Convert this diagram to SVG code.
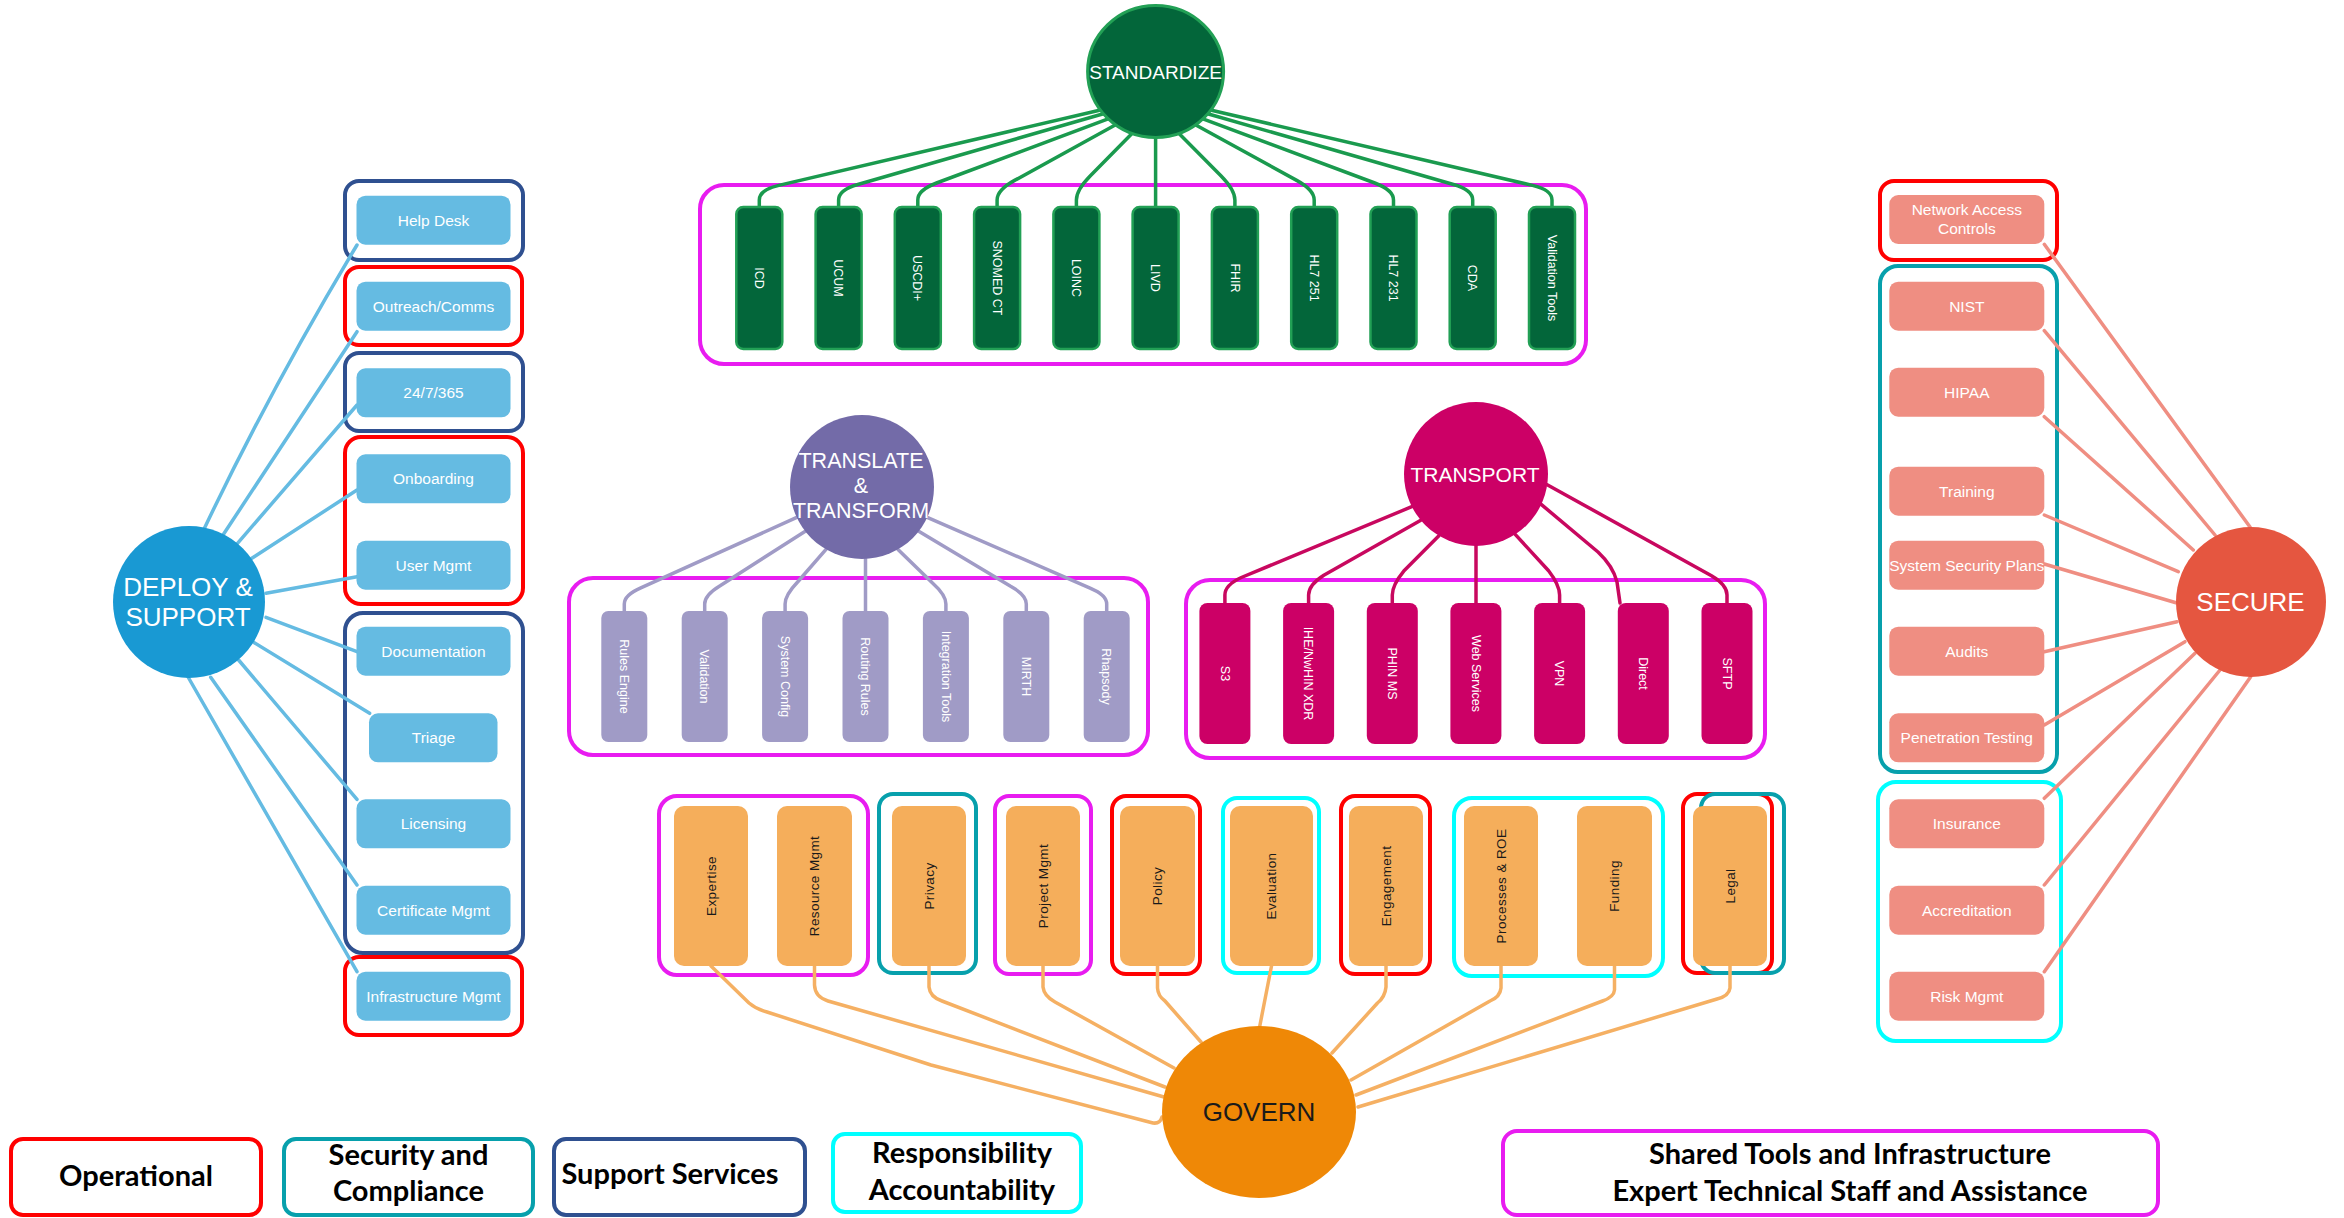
<svg xmlns="http://www.w3.org/2000/svg" width="2344" height="1218" viewBox="0 0 2344 1218">
  <style>
    text { font-family: "Liberation Sans", Arial, sans-serif; }
    .frame { fill: none; stroke-width: 4; }
    .op { stroke: #ff0000; }
    .sec { stroke: #07a0ac; }
    .sup { stroke: #2f5090; }
    .resp { stroke: #00ffff; }
    .shared { stroke: #e81cf0; }
    .conn { fill: none; stroke-width: 3.5; stroke-linecap: round; stroke-linejoin: round; }
    .c-std { stroke: #1a9a4e; }
    .c-tt { stroke: #a09bc6; }
    .c-tp { stroke: #c8085f; }
    .c-gov { stroke: #f5b063; }
    .c-dep { stroke: #65bbe2; }
    .c-secu { stroke: #ef8e82; }
    .hub-label { fill: #ffffff; text-anchor: middle; }
    .bar-label { fill: #ffffff; text-anchor: middle; font-size: 12.5px; }
    .std-bar { fill: #03663a; stroke: #22a055; stroke-width: 2.5; }
    .tt-bar { fill: #a09bc6; }
    .tp-bar { fill: #cc0066; }
    .gov-bar { fill: #f5ae5b; }
    .gov-label { fill: #1a1a1a; text-anchor: middle; font-size: 13.5px; letter-spacing: 0.4px; }
    .dep-box { fill: #65bbe2; }
    .sec-box { fill: #ef8e82; }
    .box-label { fill: #ffffff; text-anchor: middle; font-size: 15.5px; }
    .legend-label { font-family: Lato, "Liberation Sans", sans-serif; font-weight: 700; font-size: 29px; fill: #000000; text-anchor: middle; }
  </style>

  <rect width="2344" height="1218" fill="#ffffff"/>

  <!-- category frames -->
  <g id="frames">
    <rect class="frame shared" x="700" y="185" width="886" height="179" rx="24"/>
    <rect class="frame shared" x="569" y="578" width="579" height="177" rx="24"/>
    <rect class="frame shared" x="1186" y="580" width="579" height="178" rx="24"/>

    <rect class="frame sup" x="345" y="181" width="178" height="79" rx="14"/>
    <rect class="frame op" x="345" y="267" width="177" height="78" rx="14"/>
    <rect class="frame sup" x="345" y="353" width="178" height="78" rx="14"/>
    <rect class="frame op" x="345" y="437" width="178" height="167" rx="16"/>
    <rect class="frame sup" x="345" y="613" width="178" height="340" rx="18"/>
    <rect class="frame op" x="345" y="957" width="177" height="78" rx="14"/>

    <rect class="frame op" x="1880" y="181" width="177" height="79" rx="14"/>
    <rect class="frame sec" x="1880" y="266" width="177" height="506" rx="18"/>
    <rect class="frame resp" x="1878" y="782" width="183" height="259" rx="18"/>

    <rect class="frame shared" x="659" y="796" width="209" height="179" rx="18"/>
    <rect class="frame sec" x="879" y="794" width="97" height="179" rx="14"/>
    <rect class="frame shared" x="995" y="796" width="96" height="178" rx="14"/>
    <rect class="frame op" x="1112" y="796" width="88" height="178" rx="14"/>
    <rect class="frame resp" x="1223" y="798" width="96" height="175" rx="14"/>
    <rect class="frame op" x="1341" y="796" width="89" height="178" rx="14"/>
    <rect class="frame resp" x="1454" y="798" width="209" height="178" rx="18"/>
    <rect class="frame op" x="1683" y="794" width="89" height="179" rx="14"/>
    <rect class="frame sec" x="1701" y="794" width="83" height="179" rx="14"/>
  </g>

  <!-- connectors -->
  <g id="connectors">
    <!-- STANDARDIZE -->
    <path class="conn c-std" d="M1100.6 110 L778.8 185.4 Q759.3 190 759.3 200 L759.3 207"/>
    <path class="conn c-std" d="M1103.4 113.7 L857.8 184.5 Q838.6 190 838.6 200 L838.6 207"/>
    <path class="conn c-std" d="M1108.1 118.9 L936.5 183 Q917.8 190 917.8 200 L917.8 207"/>
    <path class="conn c-std" d="M1115.2 125 L1014.6 180.4 Q997.1 190 997.1 200 L997.1 207"/>
    <path class="conn c-std" d="M1131.5 134.1 L1090.4 175.8 Q1076.4 190 1076.4 200 L1076.4 207"/>
    <path class="conn c-std" d="M1155.6 136 L1155.6 207"/>
    <path class="conn c-std" d="M1179.5 134.1 L1220.9 175.8 Q1234.9 190 1234.9 200 L1234.9 207"/>
    <path class="conn c-std" d="M1195.8 125 L1296.7 180.4 Q1314.2 190 1314.2 200 L1314.2 207"/>
    <path class="conn c-std" d="M1202.9 118.9 L1374.8 183 Q1393.5 190 1393.5 200 L1393.5 207"/>
    <path class="conn c-std" d="M1207.6 113.7 L1453.5 184.5 Q1472.7 190 1472.7 200 L1472.7 207"/>
    <path class="conn c-std" d="M1210.4 110 L1532.5 185.4 Q1552 190 1552 200 L1552 207"/>

    <!-- TRANSLATE & TRANSFORM -->
    <path class="conn c-tt" d="M796.8 517.4 L640.8 587.9 Q624.3 595 624.3 604 L624.3 611"/>
    <path class="conn c-tt" d="M805.3 531.3 L720.1 585.7 Q704.7 595 704.7 604 L704.7 611"/>
    <path class="conn c-tt" d="M826 549.4 L797.6 582 Q785.1 595 785.1 604 L785.1 611"/>
    <path class="conn c-tt" d="M865.5 556 L865.5 611"/>
    <path class="conn c-tt" d="M898 549.4 L932.5 583 Q945.9 595 945.9 604 L945.9 611"/>
    <path class="conn c-tt" d="M918.7 531.3 L1010.6 586.2 Q1026.3 595 1026.3 604 L1026.3 611"/>
    <path class="conn c-tt" d="M927.2 517.4 L1090.1 588.1 Q1106.7 595 1106.7 604 L1106.7 611"/>

    <!-- TRANSPORT -->
    <path class="conn c-tp" d="M1411.8 506.7 L1241.3 577.5 Q1224.9 585 1224.9 595 L1224.9 603"/>
    <path class="conn c-tp" d="M1420.8 520.3 L1323.8 575.3 Q1308.6 585 1308.6 595 L1308.6 603"/>
    <path class="conn c-tp" d="M1438.9 535.7 L1403.8 571.1 Q1392.3 585 1392.3 595 L1392.3 603"/>
    <path class="conn c-tp" d="M1476 544 L1476 603"/>
    <path class="conn c-tp" d="M1515.2 534.4 L1548.6 570.7 Q1559.6 585 1559.6 595 L1559.6 603"/>
    <path class="conn c-tp" d="M1541.2 504.4 L1598 552 Q1613 566 1617 582 L1620 603"/>
    <path class="conn c-tp" d="M1547.2 484.7 L1711.5 575.8 Q1727 585 1727 595 L1727 603"/>

    <!-- GOVERN -->
    <path class="conn c-gov" d="M711 966 L749 1003 Q756 1009 767 1012 L931 1065 L1153 1123 Q1160 1124 1162 1117"/>
    <path class="conn c-gov" d="M814.5 966 L814.5 985 Q815 997 828 1001 L1164 1097"/>
    <path class="conn c-gov" d="M929 966 L929 987 Q930 997 942 1001 L1165 1087"/>
    <path class="conn c-gov" d="M1043 966 L1043 987 Q1044 996 1055 1002 L1174 1068"/>
    <path class="conn c-gov" d="M1157.5 966 L1157.5 988 Q1158 996 1165 1001 L1201 1042"/>
    <path class="conn c-gov" d="M1271.5 966 L1259.6 1027"/>
    <path class="conn c-gov" d="M1386 966 L1386 987 Q1385 997 1377.5 1003 L1332 1053"/>
    <path class="conn c-gov" d="M1501 966 L1501 988 Q1500 997 1490 1001 L1351 1080"/>
    <path class="conn c-gov" d="M1614.5 966 L1614.5 990 Q1614 997 1602.5 1001 L1356 1095"/>
    <path class="conn c-gov" d="M1730 966 L1730 988 Q1729 996 1717 999 L1358 1107"/>

    <!-- DEPLOY & SUPPORT -->
    <path class="conn c-dep" d="M203.6 530 Q270 390 357 245"/>
    <path class="conn c-dep" d="M223 535 L357 331.7"/>
    <path class="conn c-dep" d="M237.5 543.3 L357 405"/>
    <path class="conn c-dep" d="M251.8 558.3 L357 490"/>
    <path class="conn c-dep" d="M266 593.3 L357 576.7"/>
    <path class="conn c-dep" d="M266 617.3 L357 651.7"/>
    <path class="conn c-dep" d="M254.3 642.7 L369.6 713.3"/>
    <path class="conn c-dep" d="M238.6 660 L357 799.3"/>
    <path class="conn c-dep" d="M210.7 677.3 L357 885"/>
    <path class="conn c-dep" d="M187.5 676 L357 971.7"/>

    <!-- SECURE -->
    <path class="conn c-secu" d="M2044.3 244.3 L2250 527"/>
    <path class="conn c-secu" d="M2044.3 330.7 L2215 535"/>
    <path class="conn c-secu" d="M2044.3 416.7 L2193.3 550"/>
    <path class="conn c-secu" d="M2044.3 515 L2178.3 571.7"/>
    <path class="conn c-secu" d="M2044.3 564 L2176 602.7"/>
    <path class="conn c-secu" d="M2044.3 651.7 L2177 621.7"/>
    <path class="conn c-secu" d="M2044.3 725 L2185 641.7"/>
    <path class="conn c-secu" d="M2044.3 798.3 L2195 653.3"/>
    <path class="conn c-secu" d="M2044.3 885 L2220 670"/>
    <path class="conn c-secu" d="M2044.3 971.7 L2250.7 676.7"/>
  </g>

  <!-- STANDARDIZE hub and members -->
  <g id="standardize">
    <ellipse cx="1155.6" cy="71.5" rx="68" ry="66" fill="#03663a" stroke="#22a055" stroke-width="3"/>
    <text class="hub-label" x="1155.6" y="78.5" font-size="19">STANDARDIZE</text>
  </g>
  <g id="std-icd"><rect class="std-bar" x="736.3" y="207" width="46" height="142" rx="7"/><text class="bar-label" transform="translate(759.3 278) rotate(90)" dy=".35em">ICD</text></g>
  <g id="std-ucum"><rect class="std-bar" x="815.6" y="207" width="46" height="142" rx="7"/><text class="bar-label" transform="translate(838.6 278) rotate(90)" dy=".35em">UCUM</text></g>
  <g id="std-uscdi"><rect class="std-bar" x="894.8" y="207" width="46" height="142" rx="7"/><text class="bar-label" transform="translate(917.8 278) rotate(90)" dy=".35em">USCDI+</text></g>
  <g id="std-snomed"><rect class="std-bar" x="974.1" y="207" width="46" height="142" rx="7"/><text class="bar-label" transform="translate(997.1 278) rotate(90)" dy=".35em">SNOMED CT</text></g>
  <g id="std-loinc"><rect class="std-bar" x="1053.4" y="207" width="46" height="142" rx="7"/><text class="bar-label" transform="translate(1076.4 278) rotate(90)" dy=".35em">LOINC</text></g>
  <g id="std-livd"><rect class="std-bar" x="1132.6" y="207" width="46" height="142" rx="7"/><text class="bar-label" transform="translate(1155.6 278) rotate(90)" dy=".35em">LIVD</text></g>
  <g id="std-fhir"><rect class="std-bar" x="1211.9" y="207" width="46" height="142" rx="7"/><text class="bar-label" transform="translate(1234.9 278) rotate(90)" dy=".35em">FHIR</text></g>
  <g id="std-hl7-251"><rect class="std-bar" x="1291.2" y="207" width="46" height="142" rx="7"/><text class="bar-label" transform="translate(1314.2 278) rotate(90)" dy=".35em">HL7 251</text></g>
  <g id="std-hl7-231"><rect class="std-bar" x="1370.5" y="207" width="46" height="142" rx="7"/><text class="bar-label" transform="translate(1393.5 278) rotate(90)" dy=".35em">HL7 231</text></g>
  <g id="std-cda"><rect class="std-bar" x="1449.7" y="207" width="46" height="142" rx="7"/><text class="bar-label" transform="translate(1472.7 278) rotate(90)" dy=".35em">CDA</text></g>
  <g id="std-validation-tools"><rect class="std-bar" x="1529" y="207" width="46" height="142" rx="7"/><text class="bar-label" transform="translate(1552 278) rotate(90)" dy=".35em">Validation Tools</text></g>

  <!-- TRANSLATE & TRANSFORM hub and members -->
  <g id="translate-transform">
    <circle cx="862" cy="487" r="72" fill="#736ba8"/>
    <text class="hub-label" x="861" y="468" font-size="21.5">TRANSLATE</text>
    <text class="hub-label" x="861" y="493" font-size="21.5">&amp;</text>
    <text class="hub-label" x="861" y="518" font-size="21.5">TRANSFORM</text>
  </g>
  <g id="tt-rules-engine"><rect class="tt-bar" x="601.3" y="611" width="46" height="131" rx="7"/><text class="bar-label" transform="translate(624.3 676.5) rotate(90)" dy=".35em">Rules Engine</text></g>
  <g id="tt-validation"><rect class="tt-bar" x="681.7" y="611" width="46" height="131" rx="7"/><text class="bar-label" transform="translate(704.7 676.5) rotate(90)" dy=".35em">Validation</text></g>
  <g id="tt-system-config"><rect class="tt-bar" x="762.1" y="611" width="46" height="131" rx="7"/><text class="bar-label" transform="translate(785.1 676.5) rotate(90)" dy=".35em">System Config</text></g>
  <g id="tt-routing-rules"><rect class="tt-bar" x="842.5" y="611" width="46" height="131" rx="7"/><text class="bar-label" transform="translate(865.5 676.5) rotate(90)" dy=".35em">Routing Rules</text></g>
  <g id="tt-integration-tools"><rect class="tt-bar" x="922.9" y="611" width="46" height="131" rx="7"/><text class="bar-label" transform="translate(945.9 676.5) rotate(90)" dy=".35em">Integration Tools</text></g>
  <g id="tt-mirth"><rect class="tt-bar" x="1003.3" y="611" width="46" height="131" rx="7"/><text class="bar-label" transform="translate(1026.3 676.5) rotate(90)" dy=".35em">MIRTH</text></g>
  <g id="tt-rhapsody"><rect class="tt-bar" x="1083.7" y="611" width="46" height="131" rx="7"/><text class="bar-label" transform="translate(1106.7 676.5) rotate(90)" dy=".35em">Rhapsody</text></g>

  <!-- TRANSPORT hub and members -->
  <g id="transport">
    <circle cx="1476" cy="474" r="72" fill="#cc0066"/>
    <text class="hub-label" x="1475" y="481.5" font-size="21">TRANSPORT</text>
  </g>
  <g id="tp-s3"><rect class="tp-bar" x="1199.4" y="603" width="51" height="141" rx="8"/><text class="bar-label" font-size="13.5" transform="translate(1224.9 673.5) rotate(90)" dy=".35em">S3</text></g>
  <g id="tp-ihe"><rect class="tp-bar" x="1283.1" y="603" width="51" height="141" rx="8"/><text class="bar-label" font-size="13.5" transform="translate(1308.6 673.5) rotate(90)" dy=".35em">IHE/NwHIN XDR</text></g>
  <g id="tp-phin-ms"><rect class="tp-bar" x="1366.8" y="603" width="51" height="141" rx="8"/><text class="bar-label" font-size="13.5" transform="translate(1392.3 673.5) rotate(90)" dy=".35em">PHIN MS</text></g>
  <g id="tp-web-services"><rect class="tp-bar" x="1450.4" y="603" width="51" height="141" rx="8"/><text class="bar-label" font-size="13.5" transform="translate(1475.9 673.5) rotate(90)" dy=".35em">Web Services</text></g>
  <g id="tp-vpn"><rect class="tp-bar" x="1534.1" y="603" width="51" height="141" rx="8"/><text class="bar-label" font-size="13.5" transform="translate(1559.6 673.5) rotate(90)" dy=".35em">VPN</text></g>
  <g id="tp-direct"><rect class="tp-bar" x="1617.8" y="603" width="51" height="141" rx="8"/><text class="bar-label" font-size="13.5" transform="translate(1643.3 673.5) rotate(90)" dy=".35em">Direct</text></g>
  <g id="tp-sftp"><rect class="tp-bar" x="1701.5" y="603" width="51" height="141" rx="8"/><text class="bar-label" font-size="13.5" transform="translate(1727 673.5) rotate(90)" dy=".35em">SFTP</text></g>

  <!-- GOVERN hub and members -->
  <g id="govern">
    <ellipse cx="1259" cy="1112" rx="97" ry="86" fill="#ef8806"/>
    <text x="1259" y="1121" font-size="26" fill="#1a1a1a" text-anchor="middle">GOVERN</text>
  </g>
  <g id="gov-expertise"><rect class="gov-bar" x="674" y="806" width="74" height="160" rx="10"/><text class="gov-label" transform="translate(711 886) rotate(-90)" dy=".35em">Expertise</text></g>
  <g id="gov-resource-mgmt"><rect class="gov-bar" x="777" y="806" width="75" height="160" rx="10"/><text class="gov-label" transform="translate(814.5 886) rotate(-90)" dy=".35em">Resource Mgmt</text></g>
  <g id="gov-privacy"><rect class="gov-bar" x="892" y="806" width="74" height="160" rx="10"/><text class="gov-label" transform="translate(929 886) rotate(-90)" dy=".35em">Privacy</text></g>
  <g id="gov-project-mgmt"><rect class="gov-bar" x="1006" y="806" width="74" height="160" rx="10"/><text class="gov-label" transform="translate(1043 886) rotate(-90)" dy=".35em">Project Mgmt</text></g>
  <g id="gov-policy"><rect class="gov-bar" x="1120" y="806" width="75" height="160" rx="10"/><text class="gov-label" transform="translate(1157.5 886) rotate(-90)" dy=".35em">Policy</text></g>
  <g id="gov-evaluation"><rect class="gov-bar" x="1230" y="806" width="83" height="160" rx="10"/><text class="gov-label" transform="translate(1271.5 886) rotate(-90)" dy=".35em">Evaluation</text></g>
  <g id="gov-engagement"><rect class="gov-bar" x="1349" y="806" width="74" height="160" rx="10"/><text class="gov-label" transform="translate(1386 886) rotate(-90)" dy=".35em">Engagement</text></g>
  <g id="gov-processes-roe"><rect class="gov-bar" x="1464" y="806" width="74" height="160" rx="10"/><text class="gov-label" transform="translate(1501 886) rotate(-90)" dy=".35em">Processes &amp; ROE</text></g>
  <g id="gov-funding"><rect class="gov-bar" x="1577" y="806" width="75" height="160" rx="10"/><text class="gov-label" transform="translate(1614.5 886) rotate(-90)" dy=".35em">Funding</text></g>
  <g id="gov-legal"><rect class="gov-bar" x="1693" y="806" width="74" height="160" rx="10"/><text class="gov-label" transform="translate(1730 886) rotate(-90)" dy=".35em">Legal</text></g>

  <!-- DEPLOY & SUPPORT hub and members -->
  <g id="deploy-support">
    <circle cx="189" cy="602" r="76" fill="#1999d3"/>
    <text class="hub-label" x="188" y="596" font-size="26">DEPLOY &amp;</text>
    <text class="hub-label" x="188" y="626" font-size="26">SUPPORT</text>
  </g>
  <g id="dep-help-desk"><rect class="dep-box" x="356.5" y="195.7" width="154" height="49" rx="9"/><text class="box-label" x="433.5" y="225.7">Help Desk</text></g>
  <g id="dep-outreach"><rect class="dep-box" x="356.5" y="281.7" width="154" height="49" rx="9"/><text class="box-label" x="433.5" y="311.7">Outreach/Comms</text></g>
  <g id="dep-247365"><rect class="dep-box" x="356.5" y="368.3" width="154" height="49" rx="9"/><text class="box-label" x="433.5" y="398.3">24/7/365</text></g>
  <g id="dep-onboarding"><rect class="dep-box" x="356.5" y="454.3" width="154" height="49" rx="9"/><text class="box-label" x="433.5" y="484.3">Onboarding</text></g>
  <g id="dep-user-mgmt"><rect class="dep-box" x="356.5" y="540.7" width="154" height="49" rx="9"/><text class="box-label" x="433.5" y="570.7">User Mgmt</text></g>
  <g id="dep-documentation"><rect class="dep-box" x="356.5" y="626.7" width="154" height="49" rx="9"/><text class="box-label" x="433.5" y="656.7">Documentation</text></g>
  <g id="dep-triage"><rect class="dep-box" x="369" y="713.3" width="128.5" height="49" rx="9"/><text class="box-label" x="433.5" y="743.3">Triage</text></g>
  <g id="dep-licensing"><rect class="dep-box" x="356.5" y="799.3" width="154" height="49" rx="9"/><text class="box-label" x="433.5" y="829.3">Licensing</text></g>
  <g id="dep-certificate-mgmt"><rect class="dep-box" x="356.5" y="885.7" width="154" height="49" rx="9"/><text class="box-label" x="433.5" y="915.7">Certificate Mgmt</text></g>
  <g id="dep-infrastructure-mgmt"><rect class="dep-box" x="356.5" y="971.7" width="154" height="49" rx="9"/><text class="box-label" x="433.5" y="1001.7">Infrastructure Mgmt</text></g>

  <!-- SECURE hub and members -->
  <g id="secure">
    <circle cx="2251" cy="602" r="75" fill="#e55640"/>
    <text class="hub-label" x="2250.5" y="611" font-size="26">SECURE</text>
  </g>
  <g id="sec-network-access"><rect class="sec-box" x="1889.3" y="195" width="155" height="49" rx="9"/><text class="box-label" x="1966.8" y="215">Network Access</text><text class="box-label" x="1966.8" y="234">Controls</text></g>
  <g id="sec-nist"><rect class="sec-box" x="1889.3" y="281.7" width="155" height="49" rx="9"/><text class="box-label" x="1966.8" y="311.7">NIST</text></g>
  <g id="sec-hipaa"><rect class="sec-box" x="1889.3" y="367.7" width="155" height="49" rx="9"/><text class="box-label" x="1966.8" y="397.7">HIPAA</text></g>
  <g id="sec-training"><rect class="sec-box" x="1889.3" y="466.7" width="155" height="49" rx="9"/><text class="box-label" x="1966.8" y="496.7">Training</text></g>
  <g id="sec-ssp"><rect class="sec-box" x="1889.3" y="540.7" width="155" height="49" rx="9"/><text class="box-label" x="1966.8" y="570.7">System Security Plans</text></g>
  <g id="sec-audits"><rect class="sec-box" x="1889.3" y="626.7" width="155" height="49" rx="9"/><text class="box-label" x="1966.8" y="656.7">Audits</text></g>
  <g id="sec-pen-testing"><rect class="sec-box" x="1889.3" y="713.3" width="155" height="49" rx="9"/><text class="box-label" x="1966.8" y="743.3">Penetration Testing</text></g>
  <g id="sec-insurance"><rect class="sec-box" x="1889.3" y="799.3" width="155" height="49" rx="9"/><text class="box-label" x="1966.8" y="829.3">Insurance</text></g>
  <g id="sec-accreditation"><rect class="sec-box" x="1889.3" y="885.7" width="155" height="49" rx="9"/><text class="box-label" x="1966.8" y="915.7">Accreditation</text></g>
  <g id="sec-risk-mgmt"><rect class="sec-box" x="1889.3" y="971.7" width="155" height="49" rx="9"/><text class="box-label" x="1966.8" y="1001.7">Risk Mgmt</text></g>

  <!-- legend -->
  <g id="legend">
    <rect class="frame op" x="11" y="1139" width="250" height="76" rx="12" stroke-width="4.5"/>
    <text class="legend-label" x="136" y="1186">Operational</text>
    <rect class="frame sec" x="284" y="1139" width="249" height="76" rx="12" stroke-width="4.5"/>
    <text class="legend-label" x="408.5" y="1165">Security and</text>
    <text class="legend-label" x="408.5" y="1201">Compliance</text>
    <rect class="frame sup" x="554" y="1139" width="251" height="76" rx="12" stroke-width="4.5"/>
    <text class="legend-label" x="670" y="1184">Support Services</text>
    <rect class="frame resp" x="833" y="1134" width="248" height="78" rx="12" stroke-width="4.5"/>
    <text class="legend-label" x="962" y="1163">Responsibility</text>
    <text class="legend-label" x="962" y="1200">Accountability</text>
    <rect class="frame shared" x="1503" y="1131" width="655" height="84" rx="14" stroke-width="4.5"/>
    <text class="legend-label" x="1850" y="1164">Shared Tools and Infrastructure</text>
    <text class="legend-label" x="1850" y="1201">Expert Technical Staff and Assistance</text>
  </g>
</svg>
